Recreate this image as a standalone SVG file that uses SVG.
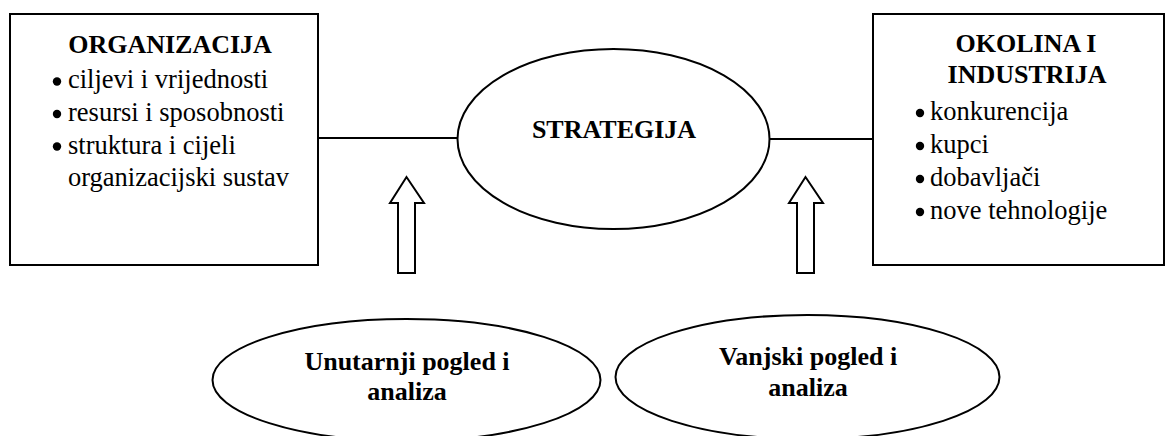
<svg xmlns="http://www.w3.org/2000/svg" width="1175" height="436" viewBox="0 0 1175 436">
  <style>
    .shape { fill: #ffffff; stroke: #000000; stroke-width: 2; }
    .link { fill: none; stroke: #000000; stroke-width: 2; }
    .dot { fill: #000000; }
    .title { font-family: "Liberation Serif", "Times New Roman", serif; font-size: 26px; font-weight: bold; fill: #000000; }
    .item { font-family: "Liberation Serif", "Times New Roman", serif; font-size: 26.5px; fill: #000000; }
  </style>
  <rect width="1175" height="436" fill="#ffffff"/>

  <!-- connectors between the boxes and the central ellipse -->
  <g id="connectors">
    <line class="link" x1="318" y1="138" x2="458" y2="138"/>
    <line class="link" x1="769" y1="139" x2="873" y2="139"/>
    <!-- hollow upward arrows -->
    <path class="shape" d="M398,273 L398,203 L390,203 L406.5,177 L424,203 L415,203 L415,273 Z"/>
    <path class="shape" d="M797,273 L797,203 L789,203 L805.5,177 L823,203 L814,203 L814,273 Z"/>
  </g>

  <g id="organizacija">
    <rect class="shape" x="10" y="14" width="308" height="251"/>
    <text class="title" x="170" y="53" text-anchor="middle">ORGANIZACIJA</text>
    <!-- list bullets -->
    <circle class="dot" cx="57" cy="81.5" r="4.2"/>
    <circle class="dot" cx="57" cy="114" r="4.2"/>
    <circle class="dot" cx="57" cy="146.5" r="4.2"/>
    <text class="item" x="68" y="88">ciljevi i vrijednosti</text>
    <text class="item" x="68" y="121">resursi i sposobnosti</text>
    <text class="item" x="68" y="153.5">struktura i cijeli</text>
    <text class="item" x="68" y="186">organizacijski sustav</text>
  </g>

  <g id="okolina">
    <rect class="shape" x="873" y="14" width="291" height="251"/>
    <text class="title" x="1026" y="52" text-anchor="middle">OKOLINA I</text>
    <text class="title" x="1027" y="83" text-anchor="middle">INDUSTRIJA</text>
    <!-- list bullets -->
    <circle class="dot" cx="920" cy="113" r="4.2"/>
    <circle class="dot" cx="920" cy="146" r="4.2"/>
    <circle class="dot" cx="920" cy="179" r="4.2"/>
    <circle class="dot" cx="920" cy="212" r="4.2"/>
    <text class="item" x="930" y="120">konkurencija</text>
    <text class="item" x="930" y="153">kupci</text>
    <text class="item" x="930" y="186">dobavljači</text>
    <text class="item" x="930" y="219">nove tehnologije</text>
  </g>

  <g id="strategija">
    <ellipse class="shape" cx="613.5" cy="139" rx="156" ry="90"/>
    <text class="title" x="614" y="138" text-anchor="middle">STRATEGIJA</text>
  </g>

  <g id="unutarnji">
    <ellipse class="shape" cx="406.5" cy="380" rx="194" ry="61"/>
    <text class="title" x="407" y="370" text-anchor="middle">Unutarnji pogled i</text>
    <text class="title" x="407" y="400" text-anchor="middle">analiza</text>
  </g>

  <g id="vanjski">
    <ellipse class="shape" cx="807.5" cy="377" rx="192" ry="62"/>
    <text class="title" x="808" y="365" text-anchor="middle">Vanjski pogled i</text>
    <text class="title" x="808" y="396" text-anchor="middle">analiza</text>
  </g>
</svg>
